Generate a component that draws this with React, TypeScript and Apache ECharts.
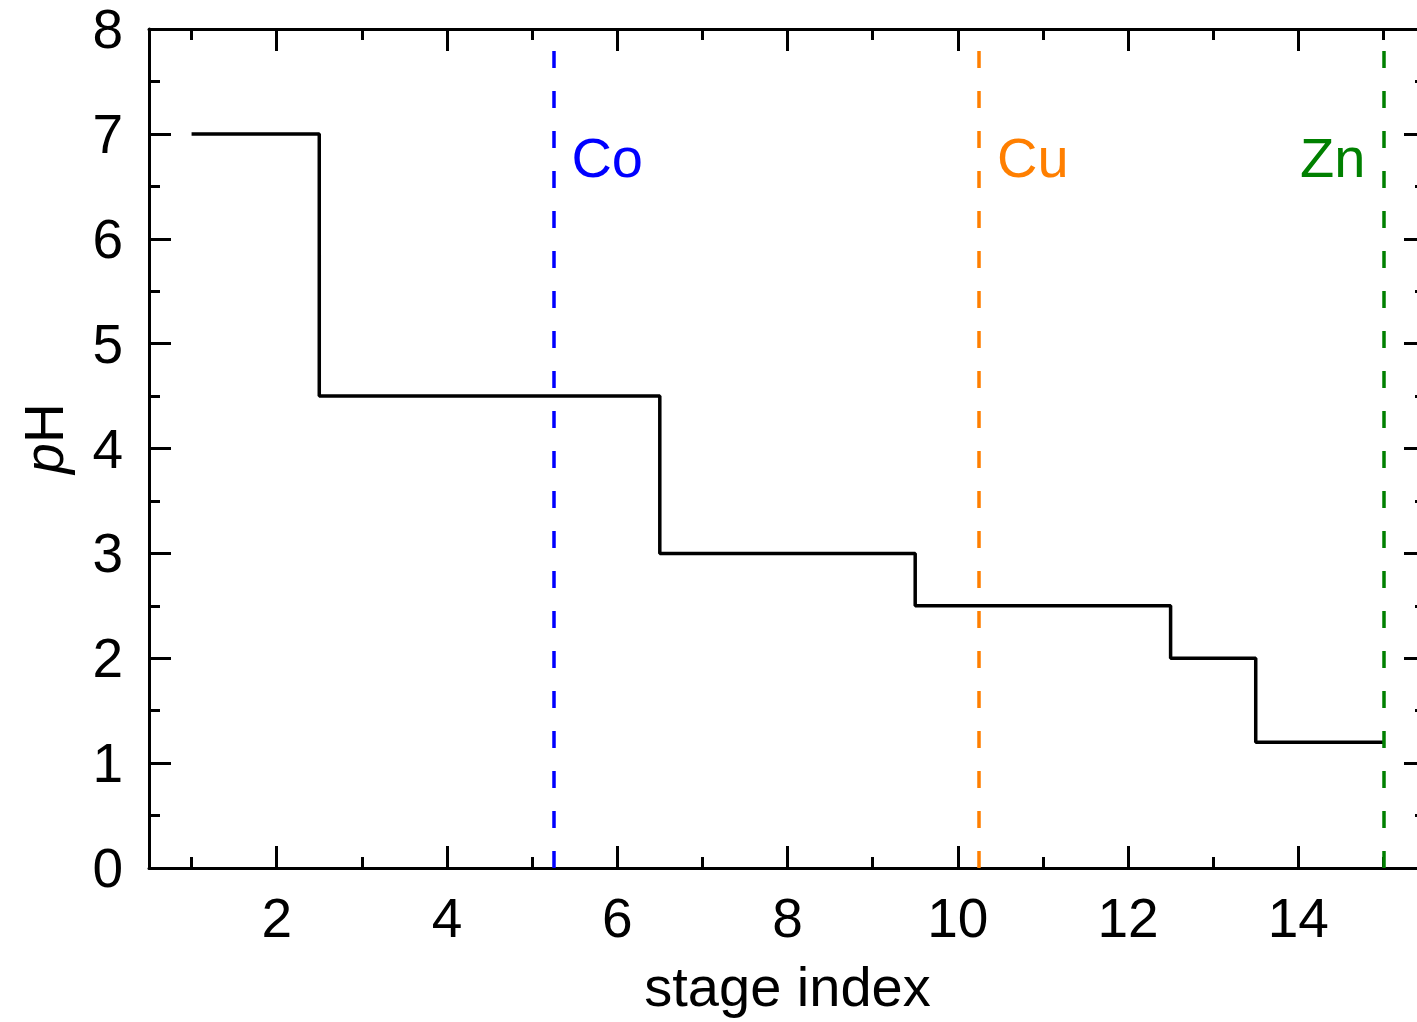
import React, { useEffect, useRef } from "react";
import * as echarts from "echarts";

const stages = [1, 2, 3, 4, 5, 6, 7, 8, 9, 10, 11, 12, 13, 14, 15];
const pHValues = [7, 7, 4.5, 4.5, 4.5, 4.5, 3, 3, 3, 2.5, 2.5, 2.5, 2, 1.2, 1.2];
const xMajorTicks = [2, 4, 6, 8, 10, 12, 14];
const xMinorTicks = [1, 3, 5, 7, 9, 11, 13, 15];
const metalNames = ["Co", "Cu", "Zn"];
const metalStage = [5.25, 10.25, 15];
const metalColors = ["#0000ff", "#ff7f00", "#008000"];
const metalLabelSide = ["right", "right", "left"];
const metalLabelY = 6.77;

const FONT = "'Liberation Sans', Arial, sans-serif";

export default function App() {
  const ref = useRef<HTMLDivElement>(null);
  useEffect(() => {
    document.body.style.margin = "0";
    const chart = echarts.init(ref.current!, null, { renderer: "svg" });
    const axisCommon = {
      type: "value",
      min: 0.5,
      max: 15.5,
      splitLine: { show: false },
    };
    const black = "#000";
    const option: any = {
      animation: false,
      grid: { left: 149, top: 29, right: 14, bottom: 154 },
      xAxis: [
        {
          ...axisCommon,
          position: "bottom",
          name: "stage index",
          nameLocation: "middle",
          nameGap: 90,
          nameTextStyle: { fontSize: 56, color: black, fontFamily: FONT },
          axisLine: { show: true, onZero: false, lineStyle: { color: black, width: 3 } },
          axisTick: { show: true, inside: true, length: 22, customValues: xMajorTicks, lineStyle: { color: black, width: 3 } },
          axisLabel: { show: true, customValues: xMajorTicks, margin: 22, fontSize: 55, color: black, fontFamily: FONT },
        },
        {
          ...axisCommon,
          position: "bottom",
          axisLine: { show: false, onZero: false },
          axisTick: { show: true, inside: true, length: 11, customValues: xMinorTicks, lineStyle: { color: black, width: 3 } },
          axisLabel: { show: false },
        },
        {
          ...axisCommon,
          position: "top",
          axisLine: { show: true, onZero: false, lineStyle: { color: black, width: 3 } },
          axisTick: { show: true, inside: true, length: 22, customValues: xMajorTicks, lineStyle: { color: black, width: 3 } },
          axisLabel: { show: false },
        },
        {
          ...axisCommon,
          position: "top",
          axisLine: { show: false, onZero: false },
          axisTick: { show: true, inside: true, length: 11, customValues: xMinorTicks, lineStyle: { color: black, width: 3 } },
          axisLabel: { show: false },
        },
      ],
      yAxis: [
        {
          type: "value",
          position: "left",
          min: 0,
          max: 8,
          interval: 1,
          name: "{i|p}H",
          nameLocation: "middle",
          nameGap: 78,
          nameRotate: 90,
          nameTextStyle: {
            fontSize: 55,
            color: black,
            fontFamily: FONT,
            padding: [0, 0, 0, 20],
            rich: {
              i: { fontSize: 55, fontStyle: "italic", color: black, fontFamily: FONT },
            },
          },
          splitLine: { show: false },
          axisLine: { show: true, onZero: false, lineStyle: { color: black, width: 3 } },
          axisTick: { show: true, inside: true, length: 22, lineStyle: { color: black, width: 3 } },
          minorTick: { show: true, splitNumber: 2, length: 11, lineStyle: { color: black, width: 3 } },
          axisLabel: { show: true, margin: 26, fontSize: 55, lineHeight: 48, color: black, fontFamily: FONT },
        },
        {
          type: "value",
          position: "right",
          min: 0,
          max: 8,
          interval: 1,
          splitLine: { show: false },
          axisLine: { show: true, onZero: false, lineStyle: { color: black, width: 3 } },
          axisTick: { show: true, inside: true, length: 22, lineStyle: { color: black, width: 3 } },
          minorTick: { show: true, splitNumber: 2, length: 11, lineStyle: { color: black, width: 3 } },
          axisLabel: { show: false },
        },
      ],
      series: [
        {
          type: "line",
          xAxisIndex: 0,
          yAxisIndex: 0,
          step: "middle",
          symbol: "none",
          lineStyle: { color: black, width: 3.5 },
          data: stages.map((s, i) => [s, pHValues[i]]),
          z: 3,
          markLine: {
            silent: true,
            symbol: "none",
            label: { show: false },
            data: metalNames.map((n, i) => ({
              xAxis: metalStage[i],
              lineStyle: { color: metalColors[i], width: 3.5, type: [17, 23], opacity: 1 },
            })),
          },
        },
        {
          type: "scatter",
          xAxisIndex: 0,
          yAxisIndex: 0,
          symbolSize: 0,
          silent: true,
          itemStyle: { opacity: 1 },
          data: metalNames.map((n, i) => ({
            value: [metalStage[i], metalLabelY],
            label: {
              show: true,
              formatter: n,
              position: metalLabelSide[i],
              distance: 18,
              fontSize: 56,
              color: metalColors[i],
              opacity: 1,
              fontFamily: FONT,
            },
          })),
        },
      ],
    };
    chart.setOption(option);
    return () => chart.dispose();
  }, []);
  return (
    <div style={{ width: 1417, height: 1022, overflow: "hidden" }}>
      <div ref={ref} style={{ width: 1440, height: 1022 }} />
    </div>
  );
}
